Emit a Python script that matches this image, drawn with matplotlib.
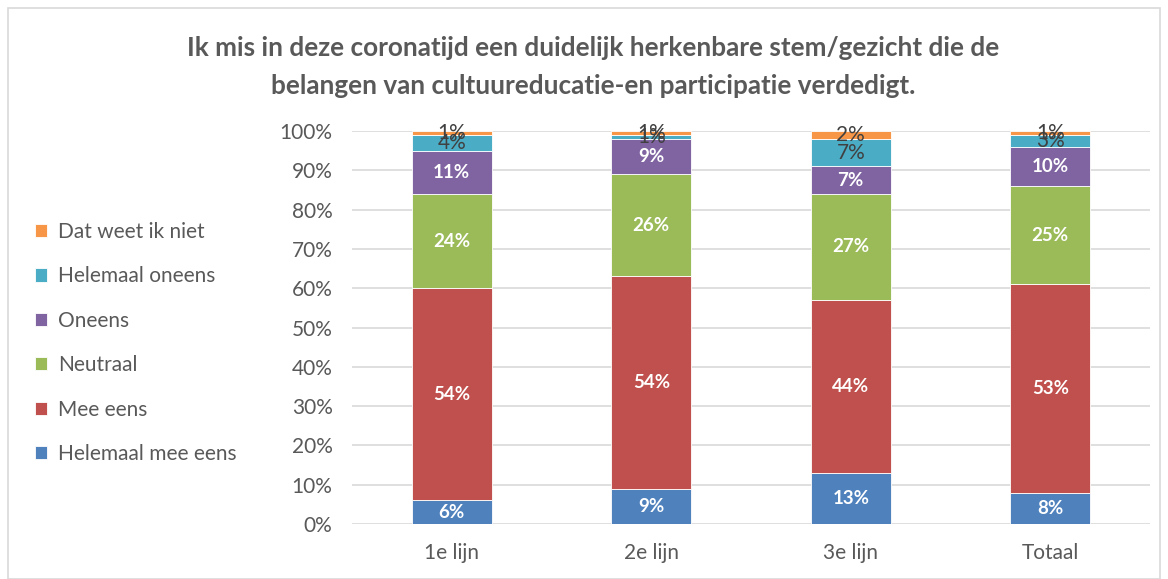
import numpy as np
import matplotlib.pyplot as plt
from matplotlib.patches import Rectangle

categories = ["1e lijn", "2e lijn", "3e lijn", "Totaal"]
series_names = ["Helemaal mee eens", "Mee eens", "Neutraal", "Oneens",
                "Helemaal oneens", "Dat weet ik niet"]
helemaal_mee_eens = [6, 9, 13, 8]
mee_eens = [54, 54, 44, 53]
neutraal = [24, 26, 27, 25]
oneens = [11, 9, 7, 10]
helemaal_oneens = [4, 1, 7, 3]
weet_niet = [1, 1, 2, 1]

series = [helemaal_mee_eens, mee_eens, neutraal, oneens, helemaal_oneens, weet_niet]
colors = ["#4F81BD", "#C0504D", "#9BBB59", "#8064A2", "#4BACC6", "#F79646"]
font = ["Lato", "DejaVu Sans"]
plt.rcParams['font.family'] = font

fig = plt.figure(figsize=(11.68, 5.79), dpi=100)
ax = fig.add_axes([352 / 1168, 1 - 524 / 579, (1150 - 352) / 1168, (524 - 131) / 579])

x = np.arange(len(categories))
bottom = np.zeros(len(categories))
handles = []
for i, (name, vals, c) in enumerate(zip(series_names, series, colors)):
    vals = np.array(vals, dtype=float)
    h = ax.bar(x, vals / 100, 0.4, bottom=bottom / 100, color=c, label=name,
               edgecolor="white", linewidth=0.6, zorder=3)
    handles.append(h)
    for xi, v, b in zip(x, vals, bottom):
        if i >= 4:
            ax.text(xi, (b + v / 2) / 100, f"{int(v)}%", ha="center", va="center",
                    fontsize=15, color="#404040", zorder=4)
        else:
            ax.text(xi, (b + v / 2) / 100, f"{int(v)}%", ha="center", va="center",
                    fontsize=13.5, color="white", fontweight="bold", zorder=4)
    bottom = bottom + vals

ax.set_xlim(-0.5, 3.5)
ax.set_ylim(0, 1)
ax.set_yticks(np.arange(0, 1.01, 0.1))
ax.set_yticklabels([f"{int(round(t * 100))}%" for t in np.arange(0, 1.01, 0.1)])
ax.set_xticks(x)
ax.set_xticklabels(categories)
ax.tick_params(axis="both", length=0, labelsize=15, colors="#595959")
ax.tick_params(axis="x", pad=14)
ax.tick_params(axis="y", pad=14)
ax.yaxis.grid(True, color="#D9D9D9", linewidth=1.2, zorder=0)
for s in ax.spines.values():
    s.set_visible(False)

fig.text(593 / 1168, 1 - 67 / 579,
         "Ik mis in deze coronatijd een duidelijk herkenbare stem/gezicht die de\n"
         "belangen van cultuureducatie-en participatie verdedigt.",
         ha="center", va="center", fontsize=18.8, fontweight="bold", color="#595959",
         linespacing=1.65)

leg = fig.legend(handles[::-1], series_names[::-1], loc="center left",
                 bbox_to_anchor=(16 / 1168, 1 - 343 / 579), frameon=False,
                 fontsize=15, labelcolor="#595959", handlelength=0.6,
                 handleheight=0.6, handletextpad=0.5, labelspacing=1.17)

fig.patches.append(Rectangle((8 / 1168, 0), 1 - 16 / 1168, 1 - 8 / 579,
                             transform=fig.transFigure, fill=False,
                             edgecolor="#D9D9D9", linewidth=1.2))

fig.savefig("out.png", dpi=100)
